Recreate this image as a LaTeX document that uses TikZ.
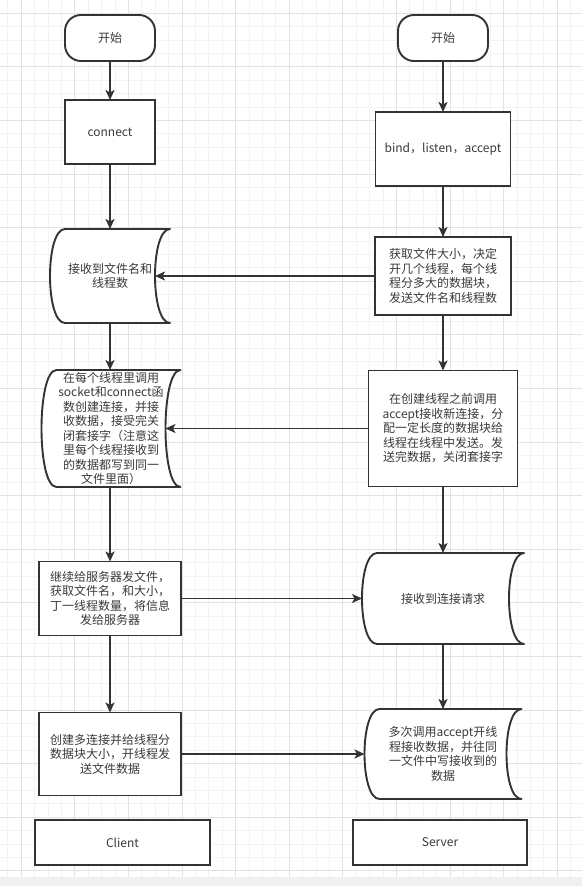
\documentclass[tikz,border=0pt]{standalone}
\usepackage{fontspec}
\usetikzlibrary{arrows.meta}
\newfontfamily\cjk{Noto Sans CJK SC}
\definecolor{linegray}{HTML}{333333}
\definecolor{textgray}{HTML}{3A3A3A}
\definecolor{minorgrid}{HTML}{F3F3F3}
\definecolor{majorgrid}{HTML}{E2E2E2}
\definecolor{stripgray}{HTML}{F0F0F0}
\pgfdeclarelayer{gridlayer}
\pgfdeclarelayer{shapes}
\pgfsetlayers{gridlayer,shapes,main}
\tikzset{
  every node/.style={font=\cjk\fontsize{12}{14.5}\selectfont, text=textgray, align=center},
  box/.style={draw=linegray, line width=1.9pt, fill=white, inner sep=2pt, outer sep=0pt},
  startbox/.style={box, rounded corners=16pt, minimum width=90pt, minimum height=46pt},
  tapebox/.style={inner sep=2pt, outer sep=0pt},
  tapeline/.style={draw=linegray, fill=white, line width=1.9pt, line join=round},
  arr/.style={draw=linegray, line width=1.9pt, -{Stealth[length=10pt,width=9pt,inset=2.5pt]}},
}

\begin{document}
\begin{tikzpicture}[x=1pt,y=-1pt]
  \useasboundingbox (0,0) rectangle (582,886);
  \begin{pgfonlayer}{gridlayer}
    \fill[white] (0,0) rectangle (582,877);
    \fill[stripgray] (0,877) rectangle (582,886);
    \foreach \i in {0,...,42} \draw[minorgrid,line width=1pt] ({7.9+13.4*\i},0) -- ({7.9+13.4*\i},877);
    \foreach \i in {0,...,64} \draw[minorgrid,line width=1pt] (0,{13.3+13.4*\i}) -- (582,{13.3+13.4*\i});
    \foreach \i in {0,...,10} \draw[majorgrid,line width=1pt] ({21.3+53.6*\i},0) -- ({21.3+53.6*\i},877);
    \foreach \i in {0,...,16} \draw[majorgrid,line width=1pt] (0,{13.3+53.6*\i}) -- (582,{13.3+53.6*\i});
  \end{pgfonlayer}

  % client
  \node[startbox] (startL) at (110,38) {开始};
  \node[box, minimum width=90pt, minimum height=64pt] (connect) at (110,132) {connect};
  \node[tapebox, minimum width=120pt, minimum height=94pt] (recv) at (110,276) {接收到文件名和\\线程数};
  \node[tapebox, minimum width=139pt, minimum height=117pt] (thread) at (111,428.5) {在每个线程里调用\\socket和connect函\\数创建连接，并接\\收数据，接受完关\\闭套接字（注意这\\里每个线程接收到\\的数据都写到同一\\文件里面）};
  \node[box, minimum width=142pt, minimum height=74pt] (sendinfo) at (110,598.5) {继续给服务器发文件，\\获取文件名，和大小，\\丁一线程数量，将信息\\发给服务器};
  \node[box, minimum width=142pt, minimum height=83pt] (multi) at (110,754) {创建多连接并给线程分\\数据块大小，开线程发\\送文件数据};
  \node[box, minimum width=175pt, minimum height=45pt] (client) at (122.5,842.5) {Client};

  % server
  \node[startbox] (startR) at (443,38) {开始};
  \node[box, minimum width=135pt, minimum height=74pt] (bind) at (443,149) {bind，listen，accept};
  \node[box, minimum width=136pt, minimum height=78pt] (getsize) at (443,276) {获取文件大小，决定\\开几个线程，每个线\\程分多大的数据块，\\发送文件名和线程数};
  \node[box, minimum width=149pt, minimum height=116pt] (accept) at (443,428.5) {在创建线程之前调用\\accept接收新连接，分\\配一定长度的数据块给\\线程在线程中发送。发\\送完数据，关闭套接字};
  \node[tapebox, minimum width=162pt, minimum height=91pt] (req) at (443,598.5) {接收到连接请求};
  \node[tapebox, minimum width=157pt, minimum height=90pt] (multirecv) at (443,754) {多次调用accept开线\\程接收数据，并往同\\一文件中写接收到的\\数据};
  \node[box, minimum width=174pt, minimum height=45pt] (server) at (440,842.5) {Server};

  \begin{pgfonlayer}{shapes}
    \foreach \n in {recv,thread,req,multirecv}
      \draw[tapeline] ([xshift=15pt]\n.north west) -- (\n.north east)
        .. controls ([xshift=-20pt]\n.north east) and ([xshift=-20pt]\n.south east) .. (\n.south east)
        -- ([xshift=15pt]\n.south west)
        .. controls ([xshift=-5pt]\n.south west) and ([xshift=-5pt]\n.north west) .. cycle;
  \end{pgfonlayer}

  \draw[arr] (startL) -- (connect);
  \draw[arr] (connect) -- (recv);
  \draw[arr] (recv.south -| connect) -- (thread.north -| connect);
  \draw[arr] (thread.south -| connect) -- (sendinfo);
  \draw[arr] (sendinfo) -- (multi);

  \draw[arr] (startR) -- (bind);
  \draw[arr] (bind) -- (getsize);
  \draw[arr] (getsize) -- (accept);
  \draw[arr] (accept) -- (req);
  \draw[arr] (req) -- (multirecv);

  \draw[arr] (getsize) -- ([xshift=-15pt]recv.east);
  \draw[arr] (accept) -- ([xshift=-15pt]thread.east);
  \draw[arr] (sendinfo) -- (req);
  \draw[arr] (multi) -- (multirecv);
\end{tikzpicture}
\end{document}
